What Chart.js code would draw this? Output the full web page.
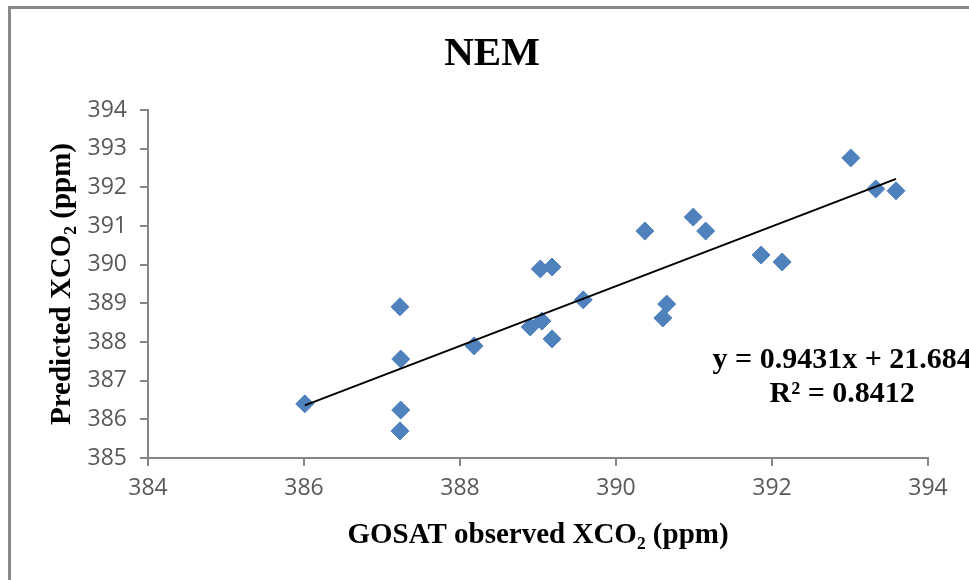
<!DOCTYPE html>
<html lang="en">
<head>
    <meta charset="UTF-8">
    <title>NEM</title>
    <script src="https://cdn.jsdelivr.net/npm/chart.js"></script>
    <style>
        html, body { margin: 0; padding: 0; background: #fff; overflow: hidden; }
        #wrap { width: 969px; height: 580px; }
    </style>
</head>
<body>
    <div id="wrap">
        <canvas id="nemChart" width="969" height="580"></canvas>
    </div>

    <script>
        // GOSAT observed XCO2 (ppm) vs predicted XCO2 (ppm)
        const observedX = [386.01, 387.23, 387.24, 387.24, 387.23, 388.18, 388.90, 389.05, 389.03, 389.18, 389.18,
                           389.58, 390.37, 390.65, 390.60, 390.99, 391.15, 391.86, 392.13, 393.01, 393.33, 393.59];
        const predictedY = [386.40, 388.91, 387.56, 386.24, 385.70, 387.90, 388.39, 388.54, 389.89, 389.94, 388.08,
                            389.09, 390.87, 388.98, 388.62, 391.23, 390.87, 390.25, 390.07, 392.76, 391.96, 391.91];

        // linear trend line end points
        const trendX = [386.01, 393.59];
        const trendY = [386.36, 392.22];

        const xTicks = [384, 386, 388, 390, 392, 394];
        const yTicks = [385, 386, 387, 388, 389, 390, 391, 392, 393, 394];

        const chartTitle = 'NEM';
        const equationLines = ['y = 0.9431x + 21.684', 'R\u00b2 = 0.8412'];
        // where the equation label sits, in data units
        const eqAnchorX = 392.9;
        const eqAnchorY = [387.54, 386.64];

        const serif = '"Liberation Serif", "Times New Roman", serif';
        const sans = '"Open Sans", "Noto Sans", sans-serif';
        const axisGray = '#868686';

        const toPoints = (xs, ys) => xs.map((x, i) => ({ x: x, y: ys[i] }));

        // white background, outer gray frame (runs off the right and bottom edges) and the title
        const framePlugin = {
            id: 'frame',
            beforeDraw(chart) {
                const ctx = chart.ctx;
                ctx.save();
                ctx.fillStyle = '#fff';
                ctx.fillRect(0, 0, chart.width, chart.height);
                ctx.fillStyle = '#898989';
                ctx.fillRect(8, 6, 3, chart.height - 6);
                ctx.fillRect(8, 6, chart.width - 8, 3);
                ctx.fillStyle = '#000';
                ctx.font = 'bold 41px ' + serif;
                ctx.textAlign = 'center';
                ctx.textBaseline = 'middle';
                ctx.fillText(chartTitle, 492, 54);
                ctx.restore();
            }
        };

        const equationPlugin = {
            id: 'equation',
            afterDatasetsDraw(chart) {
                const ctx = chart.ctx;
                const xs = chart.scales.x, ys = chart.scales.y;
                ctx.save();
                ctx.fillStyle = '#000';
                ctx.font = 'bold 30px ' + serif;
                ctx.textAlign = 'center';
                ctx.textBaseline = 'middle';
                equationLines.forEach((line, i) => {
                    ctx.fillText(line, xs.getPixelForValue(eqAnchorX), ys.getPixelForValue(eqAnchorY[i]));
                });
                ctx.restore();
            }
        };

        const ctx = document.getElementById('nemChart').getContext('2d');
        new Chart(ctx, {
            type: 'scatter',
            data: {
                datasets: [
                    {
                        label: 'Linear trend',
                        data: toPoints(trendX, trendY),
                        showLine: true,
                        borderColor: '#000',
                        borderWidth: 2,
                        pointRadius: 0,
                        fill: false
                    },
                    {
                        label: 'NEM',
                        data: toPoints(observedX, predictedY),
                        pointStyle: 'rectRot',
                        pointRadius: 9,
                        backgroundColor: '#4F81BD',
                        borderColor: '#4F81BD',
                        borderWidth: 1
                    }
                ]
            },
            options: {
                responsive: false,
                animation: false,
                layout: { padding: { left: 10, right: 41, top: 110, bottom: 17 } },
                plugins: {
                    legend: { display: false },
                    tooltip: { enabled: false },
                    title: { display: false }
                },
                scales: {
                    x: {
                        type: 'linear',
                        min: xTicks[0],
                        max: xTicks[xTicks.length - 1],
                        afterBuildTicks: scale => { scale.ticks = xTicks.map(v => ({ value: v })); },
                        afterFit: scale => { scale.height = 105; },
                        ticks: { color: '#595959', font: { family: sans, size: 23 }, padding: 9, maxRotation: 0 },
                        grid: { drawOnChartArea: false, drawTicks: true, tickLength: 8, color: axisGray, lineWidth: 2 },
                        border: { display: true, color: axisGray, width: 2 },
                        title: {
                            display: true,
                            text: 'GOSAT observed XCO\u2082 (ppm)',
                            color: '#000',
                            font: { family: serif, size: 29, weight: 'bold' },
                            padding: { top: 4, bottom: 10 }
                        }
                    },
                    y: {
                        type: 'linear',
                        min: yTicks[0],
                        max: yTicks[yTicks.length - 1],
                        afterBuildTicks: scale => { scale.ticks = yTicks.map(v => ({ value: v })); },
                        afterFit: scale => { scale.width = 138; },
                        ticks: { color: '#595959', font: { family: sans, size: 23 }, padding: 13 },
                        grid: { drawOnChartArea: false, drawTicks: true, tickLength: 8, color: axisGray, lineWidth: 2 },
                        border: { display: true, color: axisGray, width: 2 },
                        title: {
                            display: true,
                            text: 'Predicted XCO\u2082 (ppm)',
                            color: '#000',
                            font: { family: serif, size: 29, weight: 'bold' },
                            padding: { top: 35, bottom: 4 }
                        }
                    }
                }
            },
            plugins: [framePlugin, equationPlugin]
        });
    </script>
</body>
</html>
